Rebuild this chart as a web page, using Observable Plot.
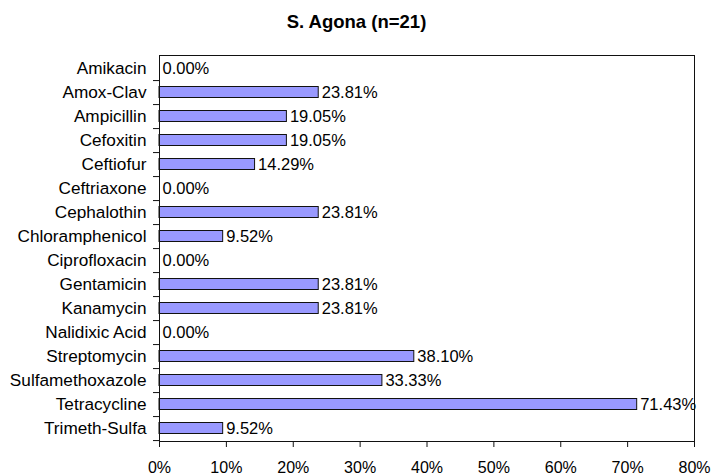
<!DOCTYPE html>
<html>
<head>
<meta charset="utf-8">
<script src="https://cdn.jsdelivr.net/npm/d3@7"></script>
<script src="https://cdn.jsdelivr.net/npm/@observablehq/plot@0.6"></script>
<style>
  html, body { margin: 0; padding: 0; background: #fff; }
  body { width: 713px; height: 475px; overflow: hidden; font-family: "Liberation Sans", Arial, sans-serif; }
  #title { height: 44px; line-height: 44px; text-align: center; font-weight: bold; font-size: 18.5px; color: #000; }
</style>
</head>
<body>
<div id="title">S. Agona (n=21)</div>
<div id="chart"></div>
<script>
const categories = ["Amikacin","Amox-Clav","Ampicillin","Cefoxitin","Ceftiofur","Ceftriaxone","Cephalothin","Chloramphenicol","Ciprofloxacin","Gentamicin","Kanamycin","Nalidixic Acid","Streptomycin","Sulfamethoxazole","Tetracycline","Trimeth-Sulfa"];
const values = [0.0000, 0.2381, 0.1905, 0.1905, 0.1429, 0.0000, 0.2381, 0.0952, 0.0000, 0.2381, 0.2381, 0.0000, 0.3810, 0.3333, 0.7143, 0.0952];
const xTicks = [0, 0.1, 0.2, 0.3, 0.4, 0.5, 0.6, 0.7, 0.8];

const data = categories.map((c, i) => ({name: c, value: values[i]}));

const H = 431, mT = 11, mB = 34;
const step = (H - mT - mB) / categories.length;

const chart = Plot.plot({
  width: 713,
  height: H,
  marginTop: mT,
  marginBottom: mB,
  marginLeft: 159,
  marginRight: 19,
  style: {fontFamily: '"Liberation Sans", Arial, sans-serif', fontSize: "16.5px", color: "#000", background: "#fff"},
  x: {domain: [0, 0.8], ticks: xTicks, tickFormat: d3.format(".0%"), label: null},
  y: {domain: categories, padding: 0, label: null},
  marks: [
    Plot.barX(data, {x: "value", y: "name", fill: "#9999FF", stroke: "#111", strokeWidth: 1, insetTop: 6.5, insetBottom: 6.5}),
    Plot.text(data, {x: "value", y: "name", text: d => d3.format(".2%")(d.value), textAnchor: "start", dx: 3, fill: "#000", fontSize: 16.5}),
    Plot.axisX({ticks: xTicks, tickFormat: d3.format(".0%"), tickSize: 6, tickPadding: 14, stroke: "#111", fill: "#000", fontSize: 16, label: null}),
    Plot.axisY({tickSize: 0, tickPadding: 13, fill: "#000", fontSize: 17.2, label: null}),
    Plot.axisY({tickSize: 6, tickFormat: () => "", dy: step / 2, stroke: "#111", label: null}),
    Plot.frame({stroke: "#111"})
  ]
});
document.getElementById("chart").appendChild(chart);
</script>
</body>
</html>
